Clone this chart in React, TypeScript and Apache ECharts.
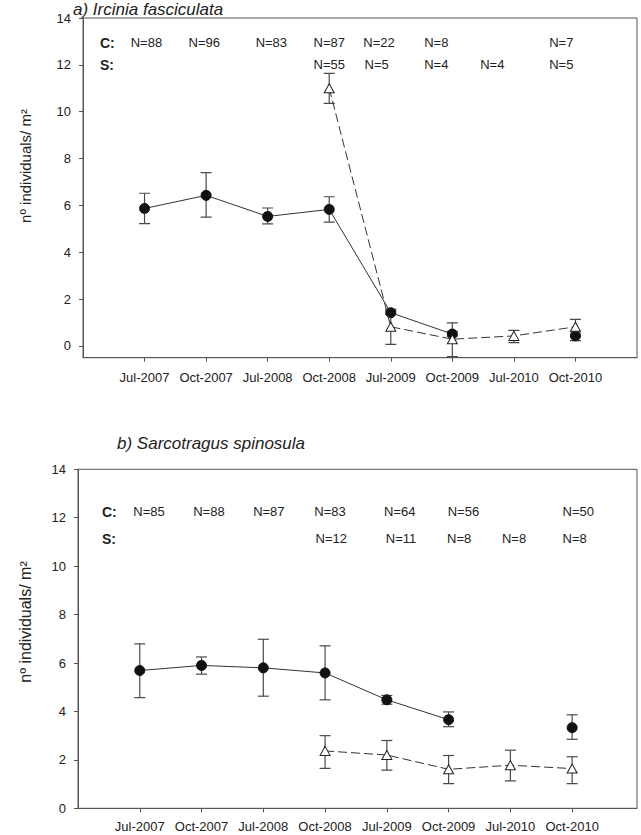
import { useEffect, useRef } from 'react';
import * as echarts from 'echarts';

const categories = ['Jul-2007', 'Oct-2007', 'Jul-2008', 'Oct-2008', 'Jul-2009', 'Oct-2009', 'Jul-2010', 'Oct-2010'];
const yTicks = [0, 2, 4, 6, 8, 10, 12, 14];

// a) Ircinia fasciculata
const topC = [5.87, 6.43, 5.53, 5.83, 1.42, 0.51, null, 0.43];
const topCLow = [5.22, 5.5, 5.21, 5.29, 1.35, 0.42, null, 0.23];
const topCHigh = [6.52, 7.4, 5.89, 6.37, 1.5, 0.62, null, 0.6];
const topS = [null, null, null, 11.0, 0.82, 0.29, 0.43, 0.82];
const topSLow = [null, null, null, 10.36, 0.07, -0.45, 0.14, 0.5];
const topSHigh = [null, null, null, 11.64, 1.57, 0.99, 0.67, 1.14];
const topNC = ['N=88', 'N=96', 'N=83', 'N=87', 'N=22', 'N=8', null, 'N=7'];
const topNS = [null, null, null, 'N=55', 'N=5', 'N=4', 'N=4', 'N=5'];

// b) Sarcotragus spinosula
const botC = [5.69, 5.9, 5.8, 5.59, 4.48, 3.66, null, 3.33];
const botCLow = [4.57, 5.54, 4.63, 4.48, 4.3, 3.37, null, 2.85];
const botCHigh = [6.79, 6.25, 6.98, 6.71, 4.66, 3.98, null, 3.86];
const botS = [null, null, null, 2.37, 2.2, 1.61, 1.78, 1.64];
const botSLow = [null, null, null, 1.65, 1.58, 1.02, 1.13, 1.02];
const botSHigh = [null, null, null, 3.0, 2.8, 2.18, 2.4, 2.13];
const botNC = ['N=85', 'N=88', 'N=87', 'N=83', 'N=64', 'N=56', null, 'N=50'];
const botNS = [null, null, null, 'N=12', 'N=11', 'N=8', 'N=8', 'N=8'];

// layout of the N annotations (x in category units, y row in axis units)
const topNCX = [0.03, 0.97, 2.06, 3.0, 3.81, 4.74, null, 6.77];
const topNSX = [null, null, null, 3.0, 3.77, 4.74, 5.65, 6.77];
const botNCX = [0.15, 1.12, 2.09, 3.08, 4.21, 5.24, null, 7.1];
const botNSX = [null, null, null, 3.1, 4.23, 5.17, 6.06, 7.04];
const rowsTop = [12.94, 12.0];
const rowsBot = [12.27, 11.13];

const FONT = 'Liberation Sans, Arial, sans-serif';
const TXT = '#222';
const AX = '#555';

function lineData(vals: (number | null)[]) {
  return vals.map((v, i) => [i, v == null ? '-' : v]);
}
function errData(lo: (number | null)[], hi: (number | null)[]) {
  const out: number[][] = [];
  lo.forEach((l, i) => {
    const h = hi[i];
    if (l != null && h != null) out.push([i, l, h]);
  });
  return out;
}
function nData(xs: (number | null)[], labels: (string | null)[], y: number) {
  const out: any[] = [];
  labels.forEach((t, i) => {
    const x = xs[i];
    if (t != null && x != null) out.push([x, y, t]);
  });
  return out;
}

function errSeries(idx: number, lo: (number | null)[], hi: (number | null)[]) {
  return {
    type: 'custom',
    xAxisIndex: idx,
    yAxisIndex: idx,
    z: 1,
    clip: true,
    encode: { x: 0, y: [1, 2] },
    data: errData(lo, hi),
    renderItem: (params: any, api: any) => {
      const x = api.value(0);
      const p1 = api.coord([x, api.value(1)]);
      const p2 = api.coord([x, api.value(2)]);
      const w = 5.5;
      const style = { stroke: '#4a4a4a', lineWidth: 1.2, fill: 'none' };
      return {
        type: 'group',
        children: [
          { type: 'line', shape: { x1: p1[0], y1: p1[1], x2: p2[0], y2: p2[1] }, style },
          { type: 'line', shape: { x1: p1[0] - w, y1: p1[1], x2: p1[0] + w, y2: p1[1] }, style },
          { type: 'line', shape: { x1: p2[0] - w, y1: p2[1], x2: p2[0] + w, y2: p2[1] }, style },
        ],
      };
    },
  };
}

function cSeries(idx: number, vals: (number | null)[]) {
  return {
    type: 'line',
    xAxisIndex: idx,
    yAxisIndex: idx,
    z: 3,
    data: lineData(vals),
    connectNulls: false,
    symbol: 'circle',
    symbolSize: 10,
    itemStyle: { color: '#111', borderColor: '#111' },
    lineStyle: { color: '#333', width: 1 },
  };
}
function sSeries(idx: number, vals: (number | null)[]) {
  return {
    type: 'line',
    xAxisIndex: idx,
    yAxisIndex: idx,
    z: 4,
    data: lineData(vals),
    connectNulls: false,
    symbol: 'triangle',
    symbolSize: [10, 9],
    itemStyle: { color: '#fff', borderColor: '#222', borderWidth: 1 },
    lineStyle: { color: '#333', width: 1, type: [9, 4] },
  };
}
function nSeries(idx: number, data: any[]) {
  return {
    type: 'custom',
    xAxisIndex: idx,
    yAxisIndex: idx,
    z: 5,
    silent: true,
    clip: false,
    encode: { x: 0, y: 1 },
    dimensions: ['x', 'y', { name: 't', type: 'ordinal' }],
    data,
    renderItem: (params: any, api: any) => {
      const p = api.coord([api.value(0), api.value(1)]);
      const d = data[params.dataIndex];
      return {
        type: 'text',
        x: p[0],
        y: p[1],
        style: {
          text: d[2],
          fill: TXT,
          fontFamily: FONT,
          fontSize: 13,
          align: 'center',
          verticalAlign: 'middle',
        },
      };
    },
  };
}

function xAxis(idx: number, max: number, margin: number) {
  return {
    type: 'value',
    gridIndex: idx,
    min: -1,
    max,
    axisLine: { show: true, onZero: false, lineStyle: { color: AX, width: 1 } },
    axisTick: { show: true, length: 4, inside: false, customValues: [0, 1, 2, 3, 4, 5, 6, 7], lineStyle: { color: AX } },
    axisLabel: {
      show: true,
      customValues: [0, 1, 2, 3, 4, 5, 6, 7],
      formatter: (v: number) => categories[Math.round(v)] ?? '',
      fontFamily: FONT,
      fontSize: 13,
      color: TXT,
      margin,
    },
    splitLine: { show: false },
  };
}
function yAxis(idx: number, min: number) {
  return {
    type: 'value',
    gridIndex: idx,
    min,
    max: 14,
    axisLine: { show: true, onZero: false, lineStyle: { color: AX, width: 1 } },
    axisTick: { show: true, length: 4, customValues: yTicks, lineStyle: { color: AX } },
    axisLabel: {
      show: true,
      customValues: yTicks,
      fontFamily: FONT,
      fontSize: 13,
      color: TXT,
      margin: 12,
    },
    splitLine: { show: false },
  };
}

function yTitle(x: number, y: number, size: number) {
  return {
    type: 'text',
    x,
    y,
    rotation: Math.PI / 2,
    style: {
      text: 'nº individuals/ m²',
      fontFamily: FONT,
      fontSize: size,
      fill: TXT,
      align: 'center',
      verticalAlign: 'middle',
    },
  };
}
function rowLabel(x: number, y: number, t: string) {
  return {
    type: 'text',
    x,
    y,
    style: { text: t, fontFamily: FONT, fontSize: 14, fontWeight: 'bold', fill: TXT, verticalAlign: 'middle' },
  };
}

export default function App() {
  const ref = useRef<HTMLDivElement>(null);
  useEffect(() => {
    if (!ref.current) return;
    const chart = echarts.init(ref.current, null, { renderer: 'svg' });
    chart.setOption({
      animation: false,
      backgroundColor: '#fff',
      grid: [
        { left: 83, right: 4, top: 18, height: 339.7, show: true, borderColor: AX, borderWidth: 1, containLabel: false },
        { left: 78, right: 4, top: 469.3, height: 339, show: true, borderColor: AX, borderWidth: 1, containLabel: false },
      ],
      xAxis: [xAxis(0, 8, 13), xAxis(1, 8.05, 12)],
      yAxis: [yAxis(0, -0.5), yAxis(1, 0)],
      series: [
        errSeries(0, topCLow, topCHigh),
        errSeries(0, topSLow, topSHigh),
        cSeries(0, topC),
        sSeries(0, topS),
        nSeries(0, [...nData(topNCX, topNC, rowsTop[0]), ...nData(topNSX, topNS, rowsTop[1])]),
        errSeries(1, botCLow, botCHigh),
        errSeries(1, botSLow, botSHigh),
        cSeries(1, botC),
        sSeries(1, botS),
        nSeries(1, [...nData(botNCX, botNC, rowsBot[0]), ...nData(botNSX, botNS, rowsBot[1])]),
      ],
      graphic: [
        {
          type: 'text',
          left: 73,
          top: 1,
          style: { text: 'a) Ircinia fasciculata', fontFamily: FONT, fontSize: 17, fontStyle: 'italic', fill: TXT },
        },
        {
          type: 'text',
          left: 117,
          top: 435,
          style: { text: 'b) Sarcotragus spinosula', fontFamily: FONT, fontSize: 17, fontStyle: 'italic', fill: TXT },
        },
        yTitle(25, 166, 15),
        yTitle(25, 622, 16),
        rowLabel(100, 42.7, 'C:'),
        rowLabel(100, 65, 'S:'),
        rowLabel(102, 511.7, 'C:'),
        rowLabel(102, 539.3, 'S:'),
      ],
    });
    return () => chart.dispose();
  }, []);
  return <div ref={ref} style={{ position: 'fixed', left: 0, top: 0, width: 641, height: 835 }} />;
}
